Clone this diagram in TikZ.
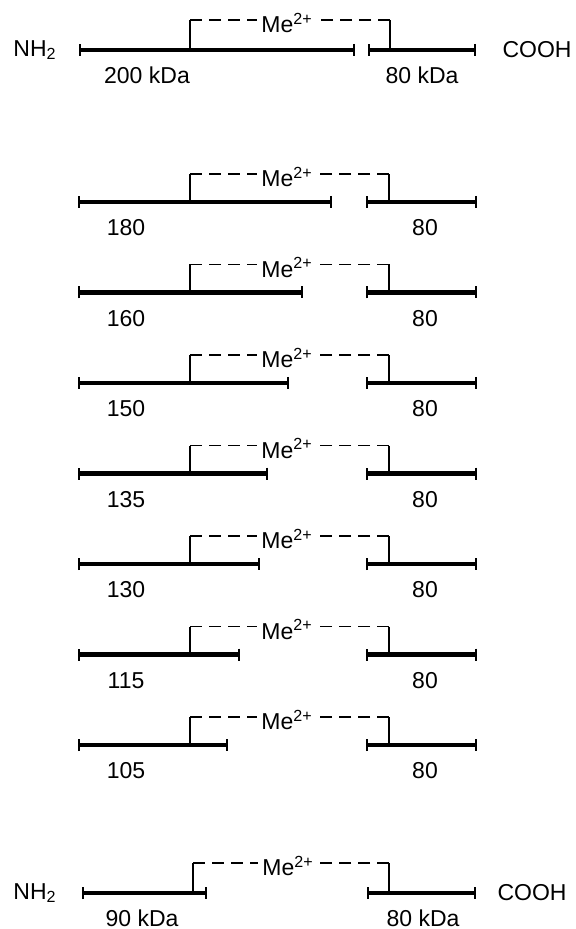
\documentclass[tikz,border=0pt]{standalone}
\usepackage{fontspec}
\setmainfont{Liberation Sans}
\usetikzlibrary{arrows.meta}

\begin{document}
\begin{tikzpicture}[
        x=0.5pt, y=-0.5pt,
        chain bar/.style={line width=2.2pt, {Bar[width=6pt,line width=0.9pt]}-{Bar[width=6pt,line width=0.9pt]}},
        link/.style={line width=0.9pt},
        link dash/.style={line width=0.9pt, dash pattern=on 6pt off 3.5pt},
        metal/.style={font=\fontsize{11.5}{13}\selectfont, inner sep=2pt},
        size label/.style={font=\fontsize{11.5}{13}\selectfont, inner sep=0pt},
        terminus/.style={font=\fontsize{11.5}{13}\selectfont, inner sep=0pt}
    ]
        \useasboundingbox (0,0) rectangle (575,929);

        % Intact chain, NH2 to COOH
        \node[terminus] (nt0) at (35,50) {NH\textsubscript{2}};
        \node[terminus] (ct0) at (537,50) {COOH};
        \coordinate (a0) at (79,50);  \coordinate (b0) at (355,50);
        \coordinate (c0) at (368,50); \coordinate (d0) at (476,50);
        \coordinate (kl0) at (190,50); \coordinate (tl0) at (190,20);
        \coordinate (kr0) at (390,50); \coordinate (tr0) at (390,20);
        \node[metal] (me0) at (287,23) {Me\textsuperscript{2+}};
        \draw[chain bar] (a0) -- (b0);
        \draw[chain bar] (c0) -- (d0);
        \draw[link] (kl0) -- (tl0);
        \draw[link dash] (tl0) -- (tl0 -| me0.west);
        \draw[link dash] (tr0) -- (tr0 -| me0.east);
        \draw[link] (kr0) -- (tr0);
        \node[size label] (s0) at (147,75) {200 kDa};
        \node[size label] (r0) at (422,75) {80 kDa};

        % Shortened N-terminal fragments
        \foreach \n/\len/\y in {180/332/202, 160/303/292.5, 150/289/383, 135/268/473.5,
                                130/260/564, 115/240/654.5, 105/228/745} {
            \coordinate (a\n) at (78,\y);   \coordinate (b\n) at (\len,\y);
            \coordinate (c\n) at (366,\y);  \coordinate (d\n) at (477,\y);
            \coordinate (kl\n) at (190,\y); \coordinate (tl\n) at (190,\y-28);
            \coordinate (kr\n) at (389,\y); \coordinate (tr\n) at (389,\y-28);
            \node[metal] (me\n) at (287,\y-25) {Me\textsuperscript{2+}};
            \draw[chain bar] (a\n) -- (b\n);
            \draw[chain bar] (c\n) -- (d\n);
            \draw[link] (kl\n) -- (tl\n);
            \draw[link dash] (tl\n) -- (tl\n -| me\n.west);
            \draw[link dash] (tr\n) -- (tr\n -| me\n.east);
            \draw[link] (kr\n) -- (tr\n);
            \node[size label] (s\n) at (126,\y+26) {\n};
            \node[size label] (r\n) at (425,\y+26) {80};
        }

        % Smallest fragment pair
        \node[terminus] (nt9) at (35,893) {NH\textsubscript{2}};
        \node[terminus] (ct9) at (532,893) {COOH};
        \coordinate (a9) at (82,893);  \coordinate (b9) at (207,893);
        \coordinate (c9) at (367,893); \coordinate (d9) at (476,893);
        \coordinate (kl9) at (193,893); \coordinate (tl9) at (193,863);
        \coordinate (kr9) at (389,893); \coordinate (tr9) at (389,863);
        \node[metal] (me9) at (288,866) {Me\textsuperscript{2+}};
        \draw[chain bar] (a9) -- (b9);
        \draw[chain bar] (c9) -- (d9);
        \draw[link] (kl9) -- (tl9);
        \draw[link dash] (tl9) -- (tl9 -| me9.west);
        \draw[link dash] (tr9) -- (tr9 -| me9.east);
        \draw[link] (kr9) -- (tr9);
        \node[size label] (s9) at (142,918) {90 kDa};
        \node[size label] (r9) at (423,918) {80 kDa};
\end{tikzpicture}
\end{document}
